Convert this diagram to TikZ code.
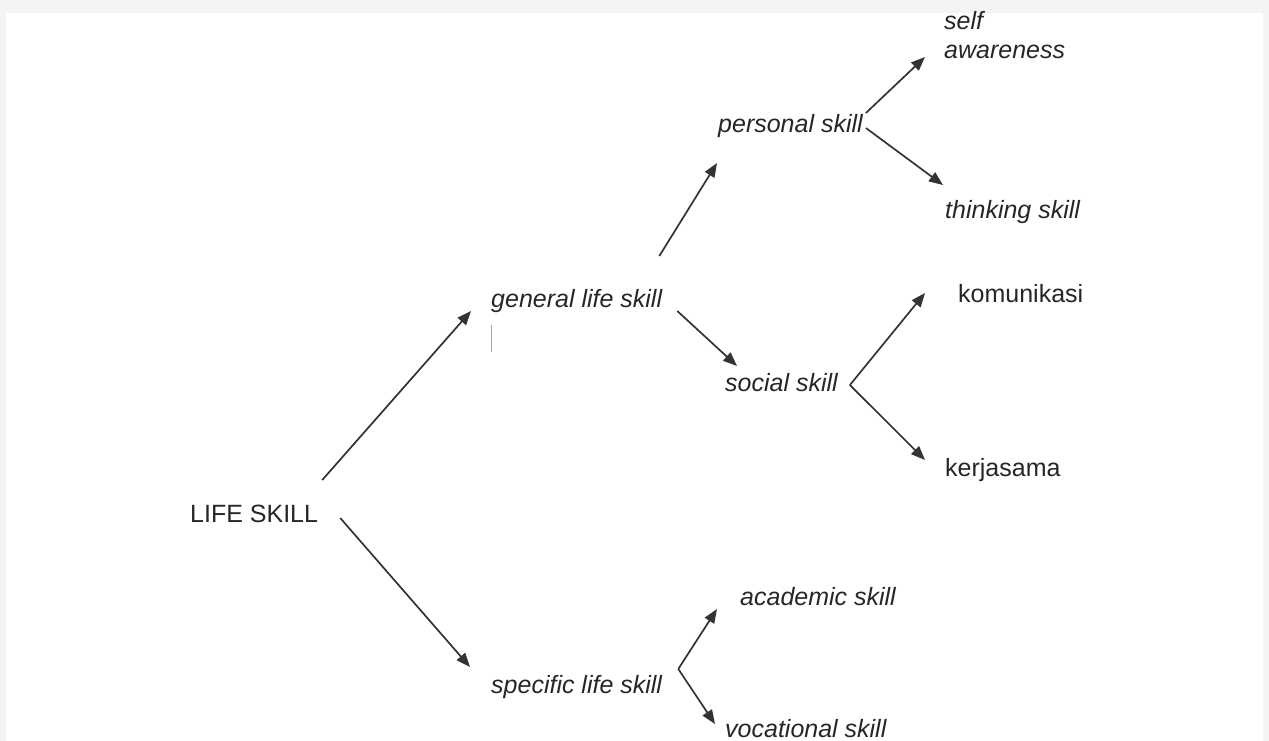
\documentclass[tikz,border=0pt]{standalone}
\usepackage{fontspec}
\setmainfont{Liberation Sans}
\usetikzlibrary{arrows.meta}

\begin{document}
\begin{tikzpicture}[x=1pt,y=-1pt,
    every node/.style={inner sep=0pt,text=black!85,font=\fontsize{25}{29}\selectfont},
    skill/.style={anchor=base west,font=\fontsize{25}{29}\selectfont\itshape},
    plain/.style={anchor=base west},
    arr/.style={draw=black!80,line width=1.7pt,-{Triangle[length=14pt,width=11pt]}}]
        \useasboundingbox (0,0) rectangle (1269,741);
        % faint border of the scan
        \fill[gray!9] (0,0) rectangle (1269,13);
        \fill[gray!9] (0,0) rectangle (6,741);
        \fill[gray!9] (1263,0) rectangle (1269,741);

        \node[plain] (life) at (190,522) {LIFE SKILL};
        \node[skill] (general) at (491,307) {general life skill};
        \node[skill] (specific) at (491,693) {specific life skill};
        \node[skill] (personal) at (718,132) {personal skill};
        \node[skill] (social) at (725,391) {social skill};
        \node[skill,anchor=south west,align=left] (aware) at (944,59) {self\\awareness};
        \node[skill] (thinking) at (945,218) {thinking skill};
        \node[plain] (komunikasi) at (958,302) {komunikasi};
        \node[plain] (kerjasama) at (945,476) {kerjasama};
        \node[skill] (academic) at (740,605) {academic skill};
        \node[skill] (vocational) at (725,737) {vocational skill};

        % split points of the forks
        \coordinate (sj) at ([xshift=12pt,yshift=6pt]social.base east);
        \coordinate (pj) at ([xshift=16pt,yshift=24pt]specific.base east);

        % first level
        \draw[arr] ([xshift=4pt,yshift=42pt]life.base east) -- ([xshift=-20pt,yshift=-4pt]general.base west);
        \draw[arr] ([xshift=22pt,yshift=4pt]life.base east) -- ([xshift=-21pt,yshift=26pt]specific.base west);
        % general life skill
        \draw[arr] ([xshift=-3pt,yshift=51pt]general.base east) -- ([xshift=-1pt,yshift=-31pt]personal.base west);
        \draw[arr] ([xshift=15pt,yshift=-4pt]general.base east) -- ([xshift=12pt,yshift=25pt]social.base west);
        % personal skill
        \draw[arr] ([xshift=3pt,yshift=19pt]personal.base east) -- ([xshift=-19pt,yshift=2pt]aware.south west);
        \draw[arr] ([xshift=3pt,yshift=4pt]personal.base east) -- ([xshift=-2pt,yshift=33pt]thinking.base west);
        % social skill
        \draw[arr] (sj) -- ([xshift=-33pt,yshift=9pt]komunikasi.base west);
        \draw[arr] (sj) -- ([xshift=-20pt,yshift=16pt]kerjasama.base west);
        % specific life skill
        \draw[arr] (pj) -- ([xshift=-23pt,yshift=-4pt]academic.base west);
        \draw[arr] (pj) -- ([xshift=-10pt,yshift=13pt]vocational.base west);

        % stray mark under general life skill
        \draw[gray!70,line width=1pt] ([yshift=-18pt]general.base west) -- ++(0,27);
    \end{tikzpicture}
\end{document}
